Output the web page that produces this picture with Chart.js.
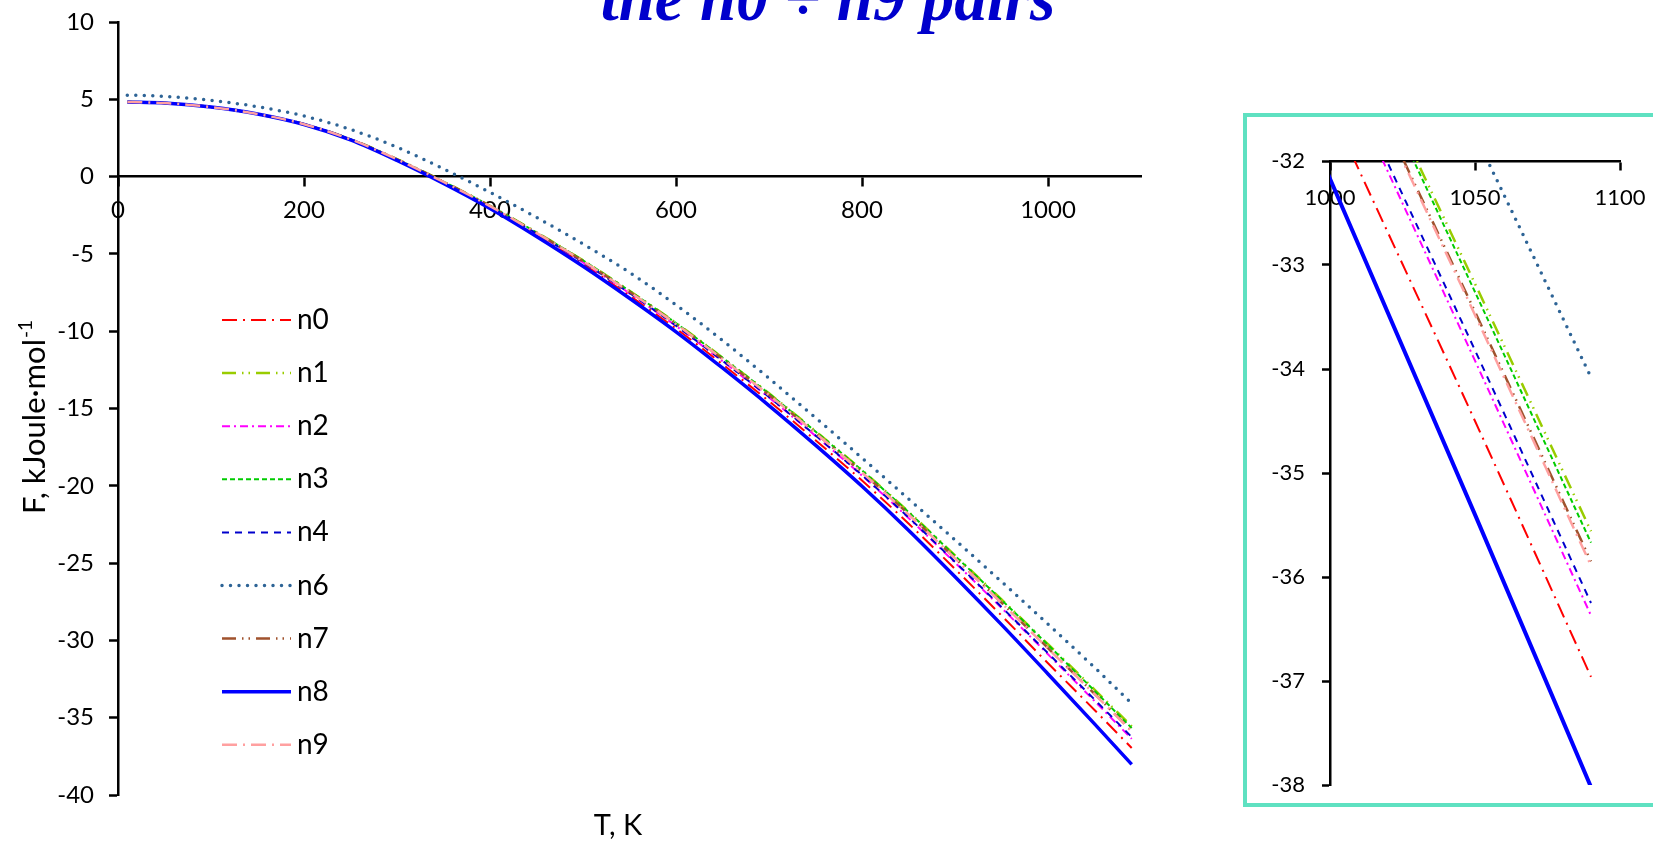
<!DOCTYPE html>
<html>
<head>
<meta charset="utf-8">
<title>Free energy F(T)</title>
<script src="https://cdn.jsdelivr.net/npm/chart.js@4.4.1/dist/chart.umd.min.js"></script>
<style>
  html, body { margin: 0; padding: 0; background: #ffffff; overflow: hidden; width: 1653px; height: 841px; }
  #main { position: absolute; left: 0; top: 0; }
  #zoomBox { position: absolute; left: 1243px; top: 113px; width: 420px; height: 686px;
             border: 4px solid #5FE1C1; background: #ffffff; overflow: hidden; }
  #inset { position: absolute; left: 0; top: 0; }
</style>
</head>
<body>
<canvas id="main" width="1653" height="841"></canvas>
<div id="zoomBox"><canvas id="inset" width="406" height="686"></canvas></div>
<script>
// Temperature grid, K
const temperatures = [10, 50, 100, 150, 200, 250, 300, 350, 400, 450, 500, 550,
                      600, 650, 700, 750, 800, 850, 900, 950, 1000, 1050, 1090];

// Free energy F, kJ/mol, for each pair
const n0 = [4.83, 4.76, 4.50, 4.05, 3.38, 2.39, 1.08, -0.40, -2.00, -3.77, -5.66, -7.70,
            -9.83, -12.14, -14.53, -17.05, -19.66, -22.44, -25.38, -28.39, -31.48, -34.50, -36.96];
const n1 = [4.83, 4.76, 4.50, 4.05, 3.39, 2.42, 1.13, -0.32, -1.89, -3.60, -5.42, -7.39,
            -9.46, -11.71, -14.02, -16.47, -18.99, -21.68, -24.50, -27.35, -30.25, -33.18, -35.56];
const n2 = [4.83, 4.76, 4.50, 4.05, 3.38, 2.41, 1.10, -0.36, -1.95, -3.69, -5.55, -7.55,
            -9.66, -11.94, -14.29, -16.77, -19.34, -22.08, -24.97, -27.90, -30.90, -33.92, -36.37];
const n3 = [4.83, 4.76, 4.50, 4.05, 3.39, 2.42, 1.13, -0.33, -1.89, -3.61, -5.42, -7.40,
            -9.48, -11.72, -14.04, -16.49, -19.01, -21.70, -24.53, -27.38, -30.29, -33.26, -35.67];
const n4 = [4.83, 4.76, 4.50, 4.05, 3.38, 2.41, 1.10, -0.36, -1.94, -3.68, -5.53, -7.53,
            -9.64, -11.91, -14.26, -16.74, -19.31, -22.04, -24.92, -27.84, -30.83, -33.82, -36.25];
const n6 = [5.27, 5.19, 4.93, 4.52, 3.92, 3.05, 1.90, 0.50, -1.02, -2.64, -4.36, -6.20,
            -8.30, -10.60, -13.05, -15.60, -18.20, -20.85, -23.50, -26.20, -28.95, -31.75, -34.08];
const n7 = [4.83, 4.76, 4.50, 4.05, 3.39, 2.41, 1.12, -0.34, -1.91, -3.64, -5.47, -7.45,
            -9.54, -11.80, -14.13, -16.59, -19.13, -21.83, -24.68, -27.56, -30.50, -33.45, -35.85];
const n8 = [4.83, 4.76, 4.50, 4.05, 3.37, 2.38, 1.05, -0.44, -2.06, -3.87, -5.80, -7.87,
            -10.04, -12.38, -14.81, -17.37, -20.03, -22.87, -25.88, -28.98, -32.17, -35.40, -38.02];
const n9 = [4.83, 4.76, 4.50, 4.05, 3.39, 2.41, 1.12, -0.34, -1.91, -3.64, -5.47, -7.46,
            -9.54, -11.80, -14.13, -16.59, -19.14, -21.85, -24.69, -27.58, -30.52, -33.48, -35.89];

const seriesNames = ['n0', 'n1', 'n2', 'n3', 'n4', 'n6', 'n7', 'n8', 'n9'];
const seriesValues = [n0, n1, n2, n3, n4, n6, n7, n8, n9];

// Axis ticks
const mainXTicks = [0, 200, 400, 600, 800, 1000];
const mainYTicks = [-40, -35, -30, -25, -20, -15, -10, -5, 0, 5, 10];
const zoomXTicks = [1000, 1050, 1100];
const zoomYTicks = [-38, -37, -36, -35, -34, -33, -32];

// Line appearance of each series
const lineStyles = {
  n0: { color: '#FF0000', width: 2,   dash: [15, 6, 2, 6] },
  n1: { color: '#99CC00', width: 2.5, dash: [14, 6, 1.5, 5, 1.5, 6] },
  n2: { color: '#FF00FF', width: 2,   dash: [8, 4, 2, 4] },
  n3: { color: '#00CC00', width: 2,   dash: [5, 3] },
  n4: { color: '#0000CC', width: 2,   dash: [7, 6] },
  n6: { color: '#2E6496', width: 3.5, dash: [0, 8.5], cap: 'round' },
  n7: { color: '#A0522D', width: 2.5, dash: [14, 6, 1.5, 5, 1.5, 6] },
  n8: { color: '#0000FF', width: 3.5, dash: [] },
  n9: { color: '#FFA0A0', width: 2.5, dash: [15, 6, 2, 6] }
};

function buildDatasets(widthBoost) {
  return seriesNames.map((name, i) => {
    const st = lineStyles[name];
    return {
      label: name,
      data: temperatures.map((t, k) => ({ x: t, y: seriesValues[i][k] })),
      borderColor: st.color,
      backgroundColor: st.color,
      borderWidth: name === 'n8' ? st.width + widthBoost : st.width,
      borderDash: st.dash,
      borderCapStyle: st.cap || 'butt',
      pointRadius: 0,
      fill: false,
      cubicInterpolationMode: 'monotone',
      clip: 0,
      order: seriesNames.length - 1 - i   // later series are painted on top
    };
  });
}

function axisLook(fontSize, tickLen, padding) {
  return {
    ticks: { color: '#000', font: { family: 'Lato', size: fontSize }, padding: padding,
             autoSkip: false, maxRotation: 0, callback: v => String(v) },
    grid: { drawOnChartArea: false, drawTicks: true, tickLength: tickLen, tickWidth: 2.5, tickColor: '#000' },
    border: { display: true, color: '#000', width: 2.5 }
  };
}

function fixedTicks(values) {
  return scale => { scale.ticks = values.map(v => ({ value: v })); };
}

// keep the plot area exactly where the layout padding puts it
function fixedWidth(w) {
  return scale => {
    if (w !== null) scale.width = w;
    scale.paddingTop = 0; scale.paddingBottom = 0;
    scale.paddingLeft = 0; scale.paddingRight = 0;
  };
}

// Heading, axis titles and legend of the main panel
const mainDecor = {
  id: 'mainDecor',
  afterDraw(chart) {
    const ctx = chart.ctx;
    ctx.save();

    ctx.fillStyle = '#0000CC';
    ctx.font = 'italic bold 65px "Liberation Serif"';
    ctx.textAlign = 'center';
    ctx.textBaseline = 'alphabetic';
    ctx.fillText('the n0 \u00F7 n9 pairs', 828, 20);

    ctx.fillStyle = '#000';
    ctx.font = '29px Lato';
    ctx.fillText('T, K', 618, 835);

    ctx.save();
    ctx.translate(45, 514);
    ctx.rotate(-Math.PI / 2);
    ctx.textAlign = 'left';
    ctx.font = '31px Lato';
    const main = 'F, kJoule\u00B7mol';
    ctx.fillText(main, 0, 0);
    const w = ctx.measureText(main).width;
    ctx.font = '19px Lato';
    ctx.fillText('-1', w + 1, -13);
    ctx.restore();

    // legend
    const x0 = 222, x1 = 291, yFirst = 320, step = 53.1;
    chart.data.datasets.forEach((ds, i) => {
      const y = yFirst + i * step;
      ctx.save();
      ctx.strokeStyle = ds.borderColor;
      ctx.lineWidth = ds.borderWidth;
      ctx.setLineDash(ds.borderDash);
      ctx.lineCap = ds.borderCapStyle;
      ctx.beginPath();
      ctx.moveTo(x0, y);
      ctx.lineTo(x1, y);
      ctx.stroke();
      ctx.restore();
      ctx.fillStyle = '#000';
      ctx.font = '28px Lato';
      ctx.textAlign = 'left';
      ctx.textBaseline = 'middle';
      ctx.fillText(ds.label, 297, y);
    });
    ctx.restore();
  }
};

const mainX = axisLook(24, 9, 10);
const mainY = axisLook(24, 9, 15);
new Chart(document.getElementById('main'), {
  type: 'line',
  data: { datasets: buildDatasets(0) },
  options: {
    responsive: false, animation: false, devicePixelRatio: 1,
    layout: { padding: { left: 0, top: 22, right: 512, bottom: 46 } },
    plugins: { legend: { display: false }, tooltip: { enabled: false } },
    scales: {
      x: Object.assign({ type: 'linear', min: 0, max: 1100, position: { y: 0 },
                         afterBuildTicks: fixedTicks(mainXTicks), afterFit: fixedWidth(null) }, mainX),
      y: Object.assign({ type: 'linear', min: -40, max: 10,
                         afterBuildTicks: fixedTicks(mainYTicks), afterFit: fixedWidth(118) }, mainY)
    }
  },
  plugins: [mainDecor]
});

const zoomX = axisLook(22, 8, 16);
const zoomY = axisLook(22, 8, 17);
new Chart(document.getElementById('inset'), {
  type: 'line',
  data: { datasets: buildDatasets(0.5) },
  options: {
    responsive: false, animation: false, devicePixelRatio: 1,
    layout: { padding: { left: 0, top: 44, right: 33, bottom: 18 } },
    plugins: { legend: { display: false }, tooltip: { enabled: false } },
    scales: {
      x: Object.assign({ type: 'linear', min: 1000, max: 1100, position: { y: -32 },
                         afterBuildTicks: fixedTicks(zoomXTicks), afterFit: fixedWidth(null) }, zoomX),
      y: Object.assign({ type: 'linear', min: -38, max: -32,
                         afterBuildTicks: fixedTicks(zoomYTicks), afterFit: fixedWidth(83) }, zoomY)
    }
  }
});
</script>
</body>
</html>
